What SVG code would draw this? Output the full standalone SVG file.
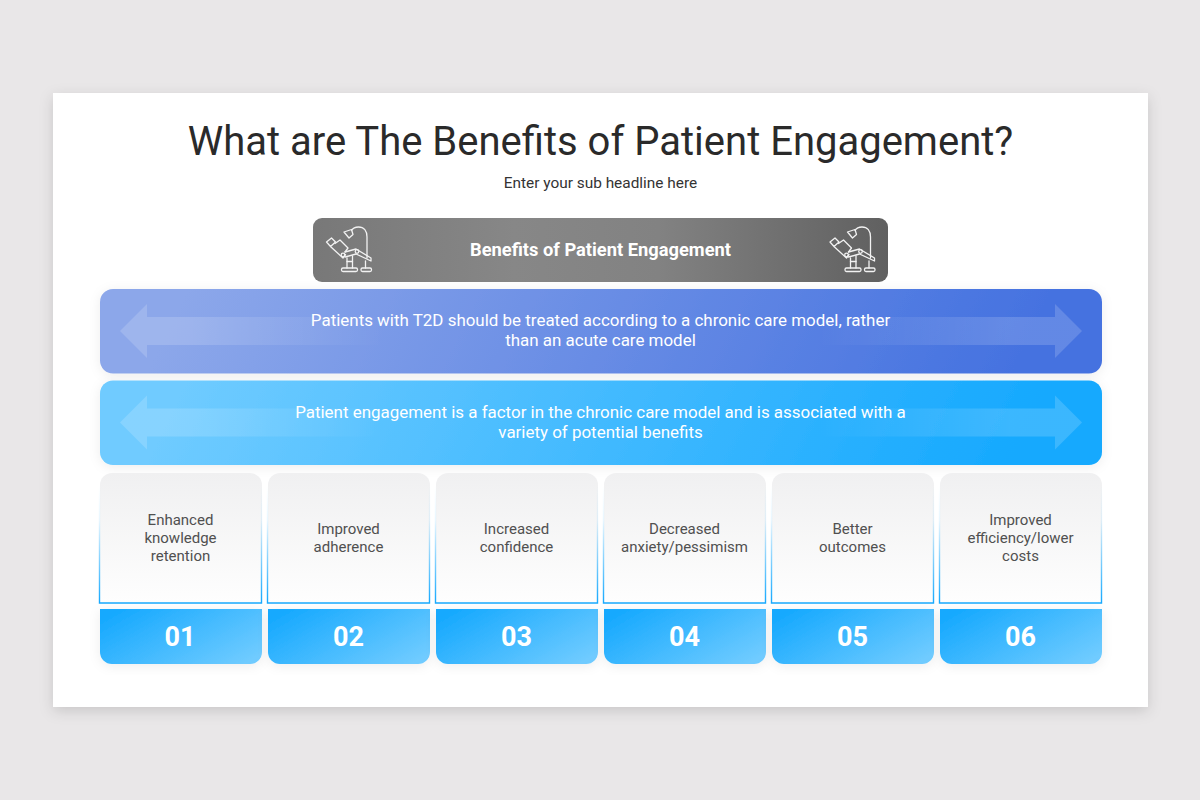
<svg xmlns="http://www.w3.org/2000/svg" xmlns:xlink="http://www.w3.org/1999/xlink" width="1200" height="800" viewBox="0 0 1200 800">
<style>
text{font-family:Roboto,"Liberation Sans",sans-serif;text-anchor:middle}
.title{font-size:40px;fill:#2a2a2a}
.sub{font-size:15.4px;fill:#333}
.hd{font-size:18.3px;font-weight:700;fill:#fff}
.band{font-size:16.95px;fill:#fff}
.lbl{font-size:15px;fill:#505050}
.num{font-size:27px;font-weight:700;fill:#fff}
.card{fill:url(#cardFill)}
.edge{fill:none;stroke:url(#cardEdge);stroke-width:1.4}
.foot{fill:url(#footFill);filter:url(#soft)}
.ic{fill:none;stroke:#f2f2f2;stroke-width:1.3;stroke-linejoin:round;stroke-linecap:round}
</style>
<defs>
<filter id="sh" x="-5%" y="-5%" width="110%" height="112%"><feDropShadow dx="0" dy="4" stdDeviation="7" flood-color="#000" flood-opacity=".14"/></filter>
<filter id="soft" x="-8%" y="-20%" width="116%" height="140%"><feDropShadow dx="0" dy="2" stdDeviation="6" flood-color="#000" flood-opacity=".07"/></filter>
<linearGradient id="hdFill" x1="0" x2="1" y1="0" y2="0"><stop offset="0" stop-color="#787878"/><stop offset=".35" stop-color="#878787"/><stop offset=".6" stop-color="#828282"/><stop offset="1" stop-color="#606060"/></linearGradient>
<linearGradient id="b1" gradientUnits="userSpaceOnUse" x1="250" y1="160" x2="950" y2="500"><stop offset="0" stop-color="#8ca7ea"/><stop offset="1" stop-color="#4572e0"/></linearGradient>
<linearGradient id="b2" gradientUnits="userSpaceOnUse" x1="250" y1="250" x2="950" y2="590"><stop offset="0" stop-color="#6fcbff"/><stop offset="1" stop-color="#16a9fe"/></linearGradient>
<linearGradient id="arL" x1="0" x2="1" y1="0" y2="0"><stop offset="0" stop-color="#fff" stop-opacity=".16"/><stop offset=".15" stop-color="#fff" stop-opacity=".16"/><stop offset=".55" stop-color="#fff" stop-opacity="0"/></linearGradient>
<linearGradient id="cardFill" x1="0" x2="0" y1="0" y2="1"><stop offset="0" stop-color="#f0f0f1"/><stop offset="1" stop-color="#fefefe"/></linearGradient>
<linearGradient id="cardEdge" gradientUnits="objectBoundingBox" x1="0" x2="0" y1="0" y2="1"><stop offset="0" stop-color="#16a9fe" stop-opacity="0"/><stop offset=".3" stop-color="#16a9fe" stop-opacity=".1"/><stop offset="1" stop-color="#16a9fe"/></linearGradient>
<linearGradient id="footFill" x1="0" x2="1" y1=".2" y2=".8"><stop offset="0" stop-color="#16a9fe"/><stop offset="1" stop-color="#6fcbff"/></linearGradient>
<path id="arrows" d="M120 0L147 -27V-14H600V14H147V27Z"/>
<g id="chair" class="ic">
<path d="M351.500 230.500C353 228 356 227 358.500 227C364 227 367 231 367 237V258"/>
<path d="M344 232L351.500 229.500L353 234.500L349 238Z"/>
<path d="M326.500 242L331.500 238L335.500 242L330.500 246.500Z"/>
<path d="M331 247L343 258L345.500 254.500"/>
<path d="M335 243.500L340 240L348 248L345 252"/>
<path d="M345 252L356 249L371 258V261L356 254L345 257"/>
<circle cx="343" cy="255" r="1.800"/><circle cx="357" cy="251.500" r="1.800"/>
<path d="M347 258V268M352.500 256V268"/>
<path d="M347 261.500H352.500"/>
<rect x="341.500" y="268" width="16" height="3.500" rx="1.500"/>
<path d="M365.500 261V268"/>
<rect x="361" y="268" width="10.500" height="3.500" rx="1.500"/>
</g>
</defs>
<rect width="1200" height="800" fill="#e9e7e8"/>
<rect x="53" y="93" width="1095" height="614" fill="#fff" filter="url(#sh)"/>
<text class="title" x="600.500" y="155">What are The Benefits of Patient Engagement?</text>
<text class="sub" x="600.500" y="187.500">Enter your sub headline here</text>
<g id="connectors"/>
<g id="header">
<rect x="313" y="218" width="575" height="64" rx="9" fill="url(#hdFill)"/>
<text class="hd" x="600.500" y="256">Benefits of Patient Engagement</text>
<use xlink:href="#chair" href="#chair"/>
<use xlink:href="#chair" href="#chair" x="503.500"/>
</g>
<g id="band1">
<rect x="100" y="289" width="1002" height="84.500" rx="13" fill="url(#b1)" filter="url(#soft)"/>
<use href="#arrows" y="331" fill="url(#arL)"/>
<use href="#arrows" transform="translate(1202 331) scale(-1 1)" fill="url(#arL)"/>
<text class="band" x="600.500" y="326">Patients with T2D should be treated according to a chronic care model, rather</text>
<text class="band" x="600.500" y="346">than an acute care model</text>
</g>
<g id="band2">
<rect x="100" y="380.500" width="1002" height="84.500" rx="13" fill="url(#b2)" filter="url(#soft)"/>
<use href="#arrows" y="422.500" fill="url(#arL)"/>
<use href="#arrows" transform="translate(1202 422.500) scale(-1 1)" fill="url(#arL)"/>
<text class="band" x="600.500" y="418">Patient engagement is a factor in the chronic care model and is associated with a</text>
<text class="band" x="600.500" y="438">variety of potential benefits</text>
</g>
<g id="item1">
<path class="card" d="M100 603V485a12 12 0 0 1 12-12h138a12 12 0 0 1 12 12V603Z"/>
<path class="edge" d="M99.500 485V603H261.500V485"/>
<text class="lbl" x="180.500" y="525">Enhanced</text><text class="lbl" x="180.500" y="543">knowledge</text><text class="lbl" x="180.500" y="561">retention</text>
<path class="foot" d="M100 609H262V652a12 12 0 0 1-12 12H112a12 12 0 0 1-12-12Z"/>
<text class="num" x="180" y="646">01</text>
</g>
<g id="item2">
<path class="card" d="M268 603V485a12 12 0 0 1 12-12h138a12 12 0 0 1 12 12V603Z"/>
<path class="edge" d="M267.500 485V603H429.500V485"/>
<text class="lbl" x="348.500" y="534">Improved</text><text class="lbl" x="348.500" y="552">adherence</text>
<path class="foot" d="M268 609H430V652a12 12 0 0 1-12 12H280a12 12 0 0 1-12-12Z"/>
<text class="num" x="348.500" y="646">02</text>
</g>
<g id="item3">
<path class="card" d="M436 603V485a12 12 0 0 1 12-12h138a12 12 0 0 1 12 12V603Z"/>
<path class="edge" d="M435.500 485V603H597.500V485"/>
<text class="lbl" x="516.500" y="534">Increased</text><text class="lbl" x="516.500" y="552">confidence</text>
<path class="foot" d="M436 609H598V652a12 12 0 0 1-12 12H448a12 12 0 0 1-12-12Z"/>
<text class="num" x="516.500" y="646">03</text>
</g>
<g id="item4">
<path class="card" d="M604 603V485a12 12 0 0 1 12-12h138a12 12 0 0 1 12 12V603Z"/>
<path class="edge" d="M603.500 485V603H765.500V485"/>
<text class="lbl" x="684.500" y="534">Decreased</text><text class="lbl" x="684.500" y="552">anxiety/pessimism</text>
<path class="foot" d="M604 609H766V652a12 12 0 0 1-12 12H616a12 12 0 0 1-12-12Z"/>
<text class="num" x="684.500" y="646">04</text>
</g>
<g id="item5">
<path class="card" d="M772 603V485a12 12 0 0 1 12-12h138a12 12 0 0 1 12 12V603Z"/>
<path class="edge" d="M771.500 485V603H933.500V485"/>
<text class="lbl" x="852.500" y="534">Better</text><text class="lbl" x="852.500" y="552">outcomes</text>
<path class="foot" d="M772 609H934V652a12 12 0 0 1-12 12H784a12 12 0 0 1-12-12Z"/>
<text class="num" x="852.500" y="646">05</text>
</g>
<g id="item6">
<path class="card" d="M940 603V485a12 12 0 0 1 12-12h138a12 12 0 0 1 12 12V603Z"/>
<path class="edge" d="M939.500 485V603H1101.500V485"/>
<text class="lbl" x="1020.500" y="525">Improved</text><text class="lbl" x="1020.500" y="543">efficiency/lower</text><text class="lbl" x="1020.500" y="561">costs</text>
<path class="foot" d="M940 609H1102V652a12 12 0 0 1-12 12H952a12 12 0 0 1-12-12Z"/>
<text class="num" x="1020.500" y="646">06</text>
</g>
</svg>
